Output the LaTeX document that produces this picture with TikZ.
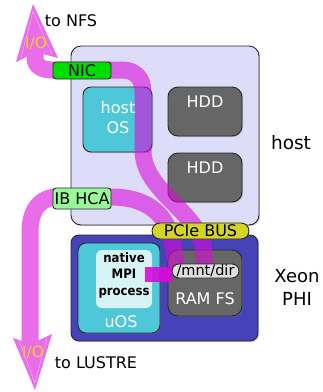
\documentclass[tikz,border=0pt]{standalone}
\usepackage{fontspec}
\setmainfont{DejaVu Sans}
\newfontfamily\condfont[FakeStretch=0.9]{DejaVu Sans}
\usetikzlibrary{shadows}
\definecolor{hostbg}{RGB}{221,221,250}
\definecolor{xeonbg}{RGB}{70,66,184}
\definecolor{osc}{RGB}{78,200,216}
\definecolor{mpic}{RGB}{216,243,245}
\definecolor{hddc}{RGB}{102,102,102}
\definecolor{mntc}{RGB}{222,222,222}
\definecolor{nicc}{RGB}{0,222,0}
\definecolor{hcac}{RGB}{150,250,150}
\definecolor{pcic}{RGB}{212,212,40}
\definecolor{bandc}{RGB}{218,10,218}
\definecolor{ioc}{RGB}{255,204,34}
\definecolor{edgec}{RGB}{40,40,40}
\begin{document}
\begin{tikzpicture}[x=1pt,y=-1pt,
  box/.style={draw=edgec, line width=0.9pt, inner sep=0pt, outer sep=0pt, anchor=north west,
    drop shadow={shadow xshift=1.2pt, shadow yshift=-1.2pt, opacity=0.35}},
  flat/.style={draw=edgec, line width=0.9pt, inner sep=0pt, outer sep=0pt, anchor=north west},
  txt/.style={inner sep=0pt, font=\fontsize{16}{19}\selectfont},
  wtxt/.style={txt, text=white},
  band/.style={draw=bandc, line width=17pt},
  shine/.style={draw=white, opacity=0.55, line width=0.4pt},
  iotxt/.style={inner sep=0pt, text=ioc, font=\fontsize{15.5}{18}\selectfont}]
\useasboundingbox (0,0) rectangle (323,392);

% containers
\node[box, fill=hostbg, rounded corners=10pt, minimum width=188pt, minimum height=179pt] (host) at (71,46) {};
\node[box, fill=xeonbg, rounded corners=8pt, minimum width=187pt, minimum height=106pt] (xeon) at (71,235) {};

% inner boxes
\node[box, fill=osc, rounded corners=8pt, minimum width=69pt, minimum height=65pt] (hostos) at (83,87) {};
\node[box, fill=hddc, rounded corners=10pt, minimum width=74pt, minimum height=49pt] (hdda) at (168,87) {};
\node[box, fill=hddc, rounded corners=10pt, minimum width=74pt, minimum height=49pt] (hddb) at (168,153) {};
\node[box, fill=osc, rounded corners=8pt, minimum width=82pt, minimum height=90pt] (uos) at (78,243) {};
\node[draw=none, fill=mpic, rounded corners=6pt, inner sep=0pt, outer sep=0pt, anchor=north west, minimum width=56pt, minimum height=58pt] (mpi) at (96,250) {};
\node[box, fill=hddc, rounded corners=10pt, minimum width=74pt, minimum height=66pt] (ramfs) at (168,250) {};

% I/O bands
\coordinate (nfstip) at (33,4);
\coordinate (lustretip) at (35,390);
\begin{scope}[transparency group, opacity=0.6]
  \draw[band] (35,50) -- (35,58) .. controls (35,66) and (42,70) .. (52,70) -- (122,70)
     .. controls (135,70) and (143,78) .. (143,92) -- (143,150)
     .. controls (143,190) and (195,210) .. (203,245) -- (205,266);
  \draw[band] (30,346) -- (30,232) .. controls (30,210) and (40,197) .. (58,197) -- (111,197)
     .. controls (148,197) and (168,215) .. (173,245) -- (177,266);
  \fill[bandc] (nfstip) -- (58,58) -- (36,52) -- (16,62) -- cycle;
  \fill[bandc] (lustretip) -- (13,338) -- (31,344) -- (52,334) -- cycle;
\end{scope}
\draw[shine] (21,58) -- (33,11) -- (52,55);
\draw[shine] (19,341) -- (35,383) -- (47,338);

% interfaces
\node[flat, fill=nicc, rounded corners=3pt, minimum width=58pt, minimum height=17pt] (nic) at (53,62) {};
\node[flat, fill=hcac, rounded corners=3pt, minimum width=58pt, minimum height=21pt] (hca) at (53,188) {};
\node[flat, fill=pcic, rounded corners=8pt, minimum width=97pt, minimum height=16pt] (pcie) at (152,223) {};

% MPI to /mnt/dir
\coordinate (mpiout) at (145,274.5);
\draw[bandc, opacity=0.9, line width=15pt] (mpiout) -- (172,274.5);
\node[flat, fill=mntc, rounded corners=7pt, minimum width=67pt, minimum height=14pt] (mnt) at (172,264) {};

% texts
\node[txt] (tnic) at (82,70.5) {NIC};
\node[txt] (thca) at (82,198.5) {IB HCA};
\node[txt] (tpcie) at (200.5,231) {PCIe BUS};
\node[inner sep=0pt, font=\fontsize{14.5}{17}\selectfont] (tmnt) at (205.5,271) {/mnt/dir};
\node[wtxt, align=center, font=\fontsize{16}{20}\selectfont] (thostos) at (118,118) {host\\OS};
\node[wtxt] (thdda) at (205,102) {HDD};
\node[wtxt] (thddb) at (205,168) {HDD};
\node[wtxt] (tram) at (205,299) {RAM FS};
\node[wtxt] (tuos) at (121,322) {uOS};
\node[inner sep=0pt, align=center, font=\condfont\bfseries\fontsize{13}{16.5}\selectfont] (tmpi) at (124,275) {native\\MPI\\process};
\node[inner sep=0pt, font=\fontsize{18.5}{22}\selectfont] (thost) at (291,143) {host};
\node[inner sep=0pt, align=center, font=\fontsize{18}{23}\selectfont] (txeon) at (297,287) {Xeon\\PHI};
\node[txt] (tnfs) at (71,21) {to NFS};
\node[txt] (tlustre) at (96,363) {to LUSTRE};
\node[iotxt] (io1) at (36,43) {I/O};
\node[iotxt] (io2) at (33,352) {I/O};
\end{tikzpicture}
\end{document}
